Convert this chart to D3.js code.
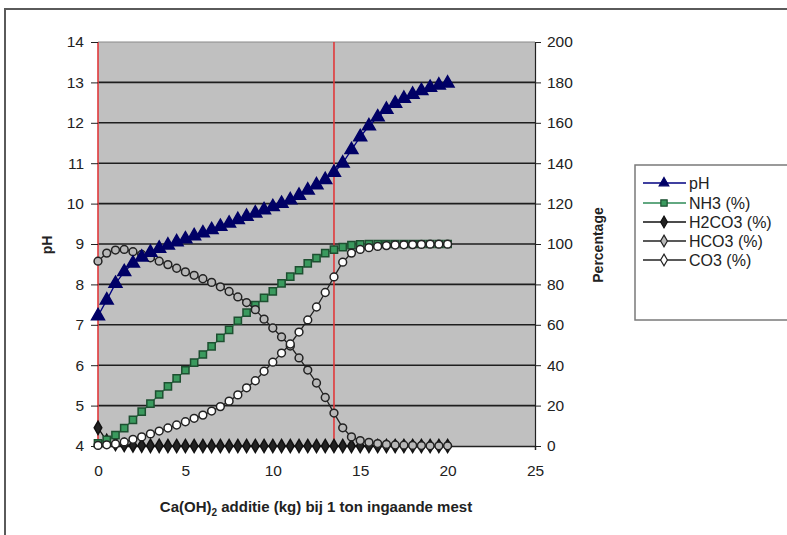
<!DOCTYPE html>
<html><head><meta charset="utf-8">
<script src="https://cdn.jsdelivr.net/npm/d3@7"></script>
<style>
body{margin:0;background:#fff;}
svg{display:block;font-family:"Liberation Sans",Arial,sans-serif;}
</style></head>
<body><svg id="c" width="787" height="535"></svg>
<script>
// ---- data ----
const xValues = [0,0.5,1,1.5,2,2.5,3,3.5,4,4.5,5,5.5,6,6.5,7,7.5,8,8.5,9,9.5,10,10.5,11,11.5,12,12.5,13,13.5,14,14.5,15,15.5,16,16.5,17,17.5,18,18.5,19,19.5,20];
const pH = [7.22,7.61,8.02,8.31,8.52,8.67,8.79,8.89,8.97,9.05,9.12,9.2,9.27,9.35,9.43,9.51,9.6,9.68,9.76,9.84,9.92,10.0,10.09,10.2,10.33,10.46,10.59,10.77,11.0,11.33,11.65,11.92,12.14,12.33,12.48,12.6,12.7,12.79,12.87,12.93,12.98];
const NH3 = [1.3,3,5.4,8.9,12.9,17,21,25.5,29.5,33.5,37.5,41.3,45.3,49.3,53.5,57.5,62,66,69.8,73.3,76.5,80.5,83.8,87,90.4,93,95.5,97.2,98.5,99.4,99.8,100,100,100,100,100,100,100,100,100,100];
const H2CO3 = [9,2.5,1,0.5,0.3,0.2,0.1,0.1,0,0,0,0,0,0,0,0,0,0,0,0,0,0,0,0,0,0,0,0,0,0,0,0,0,0,0,0,0,0,0,0,0];
const HCO3 = [91.5,95.5,97,97.3,96.2,94.8,93.2,91.5,89.8,88,86.2,84.5,82.8,81,78.8,76.5,73.8,71,67.5,62.8,58.4,54,49.5,43.6,37.6,31.2,24,16.3,9,4.5,2.7,1.8,1.2,0.8,0.5,0.4,0.3,0.2,0.1,0.1,0.1];
const CO3 = [0.3,0.6,1,2,3.3,4.5,6,7.4,8.9,10.4,12,13.7,15.3,17.3,19.5,22.2,25.3,28.8,32.3,37,41.5,46,50.5,56.4,62.4,68.8,76,83.7,91,95.5,97.3,98.2,98.8,99.2,99.5,99.6,99.7,99.8,99.9,99.9,99.9];
const xTicks = [0,5,10,15,20,25];
const pHTicks = [4,5,6,7,8,9,10,11,12,13,14];
const pctTicks = [0,20,40,60,80,100,120,140,160,180,200];
const redLines = [0,13.5];
const legendLabels = ["pH","NH3 (%)","H2CO3 (%)","HCO3 (%)","CO3 (%)"];

// ---- layout ----
const svg = d3.select("#c");
const L=98,R=535,T=42,B=446;
const x = d3.scaleLinear().domain([0,25]).range([L,R]);
const yL = d3.scaleLinear().domain([4,14]).range([B,T]);
const yR = d3.scaleLinear().domain([0,200]).range([B,T]);

// outer frame
svg.append("path").attr("d","M5,540 L5,9 L790,9").attr("fill","none").attr("stroke","#5a5a5a").attr("stroke-width",2);

// plot bg
svg.append("rect").attr("x",L).attr("y",T).attr("width",R-L).attr("height",B-T).attr("fill","#c0c0c0");
svg.append("line").attr("x1",L).attr("x2",R).attr("y1",T).attr("y2",T).attr("stroke","#8a8a8a").attr("stroke-width",1.2);

// gridlines
svg.append("g").selectAll("line").data(pHTicks.filter(d=>d>4&&d<14)).join("line")
  .attr("x1",L).attr("x2",R).attr("y1",d=>yL(d)).attr("y2",d=>yL(d))
  .attr("stroke","#1e1e1e").attr("stroke-width",1.6);

// red vertical lines
svg.append("g").selectAll("line").data(redLines).join("line")
  .attr("x1",d=>x(d)).attr("x2",d=>x(d)).attr("y1",T).attr("y2",B)
  .attr("stroke","#e0393b").attr("stroke-width",1.6);

// axes
const gL = svg.append("g").attr("transform",`translate(${L},0)`)
  .call(d3.axisLeft(yL).tickValues(pHTicks).tickSize(7).tickPadding(7));
const gR = svg.append("g").attr("transform",`translate(${R},0)`)
  .call(d3.axisRight(yR).tickValues(pctTicks).tickSize(6).tickPadding(6));
const gB = svg.append("g").attr("transform",`translate(0,${B})`)
  .call(d3.axisBottom(x).tickValues(xTicks).tickSize(4).tickPadding(15));
[gL,gR,gB].forEach(g=>{
  g.selectAll("text").attr("font-size",15.5).attr("fill","#222").attr("font-family","Liberation Sans, Arial, sans-serif");
  g.selectAll("line").attr("stroke","#222");
  g.select(".domain").attr("stroke","#222").attr("stroke-width",1.2);
});
gL.select(".domain").remove();
gB.select(".domain").attr("stroke-width",1.5);

// axis titles
svg.append("text").attr("transform","translate(52,245) rotate(-90)").attr("text-anchor","middle")
  .attr("font-size",14).attr("font-weight","bold").attr("fill","#222").text("pH");
svg.append("text").attr("transform","translate(603,245) rotate(-90)").attr("text-anchor","middle")
  .attr("font-size",14).attr("font-weight","bold").attr("fill","#222").text("Percentage");
const xt = svg.append("text").attr("x",316).attr("y",512).attr("text-anchor","middle")
  .attr("font-size",15).attr("font-weight","bold").attr("fill","#222");
xt.append("tspan").text("Ca(OH)");
xt.append("tspan").attr("font-size",10).attr("dy",4).text("2");
xt.append("tspan").attr("dy",-4).text(" additie (kg) bij 1 ton ingaande mest");

// series
const series = [
  {name:legendLabels[0], vals:pH, y:yL, line:"#000080", type:"tri", fill:"#000066", stroke:"#000066"},
  {name:legendLabels[1], vals:NH3, y:yR, line:"#2e8b57", type:"sq", fill:"#3a9a5e", stroke:"#1d4f30"},
  {name:legendLabels[2], vals:H2CO3, y:yR, line:"#111", type:"dia", fill:"#222", stroke:"#111"},
  {name:legendLabels[3], vals:HCO3, y:yR, line:"#222", type:"circ", fill:"#b8b8b8", stroke:"#222"},
  {name:legendLabels[4], vals:CO3, y:yR, line:"#222", type:"circ", fill:"#ffffff", stroke:"#222"}
];
const sym = {
  tri: d3.symbol().type(d3.symbolTriangle).size(72),
  sq: d3.symbol().type(d3.symbolSquare).size(52),
  dia: d3.symbol().type(d3.symbolDiamond).size(50),
  circ: d3.symbol().type(d3.symbolCircle).size(48)
};
const drawOrder = [2,1,3,4,0];
drawOrder.forEach(i=>{
  const s = series[i];
  const pts = xValues.map((xv,j)=>[xv,s.vals[j]]);
  svg.append("path").datum(pts).attr("fill","none").attr("stroke",s.line).attr("stroke-width",1.3)
    .attr("d",d3.line().x(d=>x(d[0])).y(d=>s.y(d[1])));
  svg.append("g").selectAll("path").data(pts).join("path")
    .attr("transform",d=>`translate(${x(d[0])},${s.y(d[1])})`)
    .attr("d",sym[s.type]()).attr("fill",s.fill).attr("stroke",s.stroke).attr("stroke-width",1.5);
});

// legend
const lg = svg.append("g");
lg.append("rect").attr("x",635).attr("y",165).attr("width",170).attr("height",155)
  .attr("fill","#fff").attr("stroke","#7a7a7a").attr("stroke-width",1.5);
const ly = [183,203,222,241,260];
series.forEach((s,i)=>{
  const g = lg.append("g").attr("transform",`translate(0,${ly[i]})`);
  g.append("line").attr("x1",643).attr("x2",686).attr("stroke",s.line).attr("stroke-width",1.3);
  const legSym = s.type==="circ" ? d3.symbol().type(d3.symbolDiamond).size(40) : d3.symbol().type(sym[s.type].type()).size(40);
  g.append("path").attr("transform","translate(664,0)").attr("d",legSym())
    .attr("fill",s.fill).attr("stroke",s.stroke).attr("stroke-width",1.2);
  g.append("text").attr("x",689).attr("y",5.5).attr("font-size",16).attr("fill","#222")
    .text(s.name);
});
</script></body></html>
